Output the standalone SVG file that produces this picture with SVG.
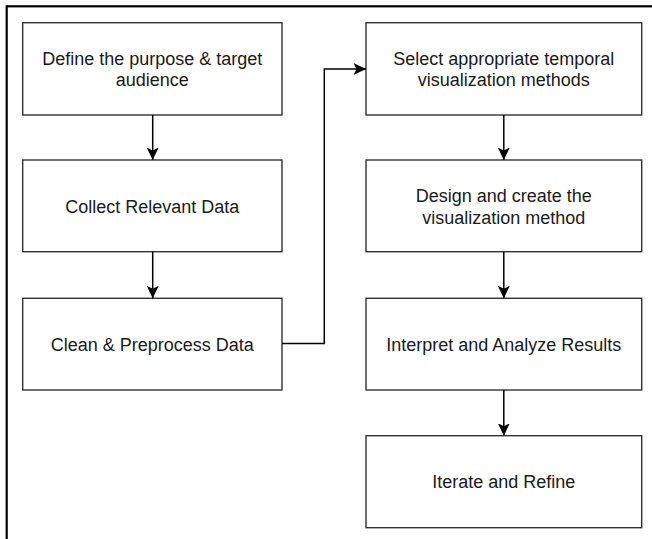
<svg xmlns="http://www.w3.org/2000/svg" width="652" height="539" viewBox="0 0 652 539">
<style>
.box{fill:#ffffff;stroke:#333333;stroke-width:1.4}
.lbl{font-family:"Liberation Sans",Arial,sans-serif;font-size:18px;fill:#1a1a1a;text-anchor:middle}
.conn{fill:none;stroke:#000000;stroke-width:1.5}
</style>
<defs>
<marker id="arr" markerUnits="userSpaceOnUse" markerWidth="14" markerHeight="14" viewBox="-12 -7 14 14" refX="0" refY="0" orient="auto">
<path d="M0,0 L-12.5,-6 L-9.5,0 L-12.5,6 Z" fill="#000000"/>
</marker>
</defs>
<rect x="6.7" y="6.3" width="700" height="600" fill="#ffffff" stroke="#000000" stroke-width="2.2"/>
<g id="n1"><rect class="box" x="22.7" y="22.7" width="259.3" height="92.3"/>
<text class="lbl" x="152.3" y="64.5">Define the purpose &amp; target</text>
<text class="lbl" x="152.3" y="86">audience</text></g>
<g id="n2"><rect class="box" x="22.7" y="160" width="259.3" height="91.7"/>
<text class="lbl" x="152.3" y="212.5">Collect Relevant Data</text></g>
<g id="n3"><rect class="box" x="22.7" y="298.3" width="259.3" height="91.7"/>
<text class="lbl" x="152.3" y="350.5">Clean &amp; Preprocess Data</text></g>
<g id="n4"><rect class="box" x="366" y="22.7" width="275.7" height="92.3"/>
<text class="lbl" x="503.8" y="64.5">Select appropriate temporal</text>
<text class="lbl" x="503.8" y="86">visualization methods</text></g>
<g id="n5"><rect class="box" x="366" y="160" width="275.7" height="91.7"/>
<text class="lbl" x="503.8" y="202">Design and create the</text>
<text class="lbl" x="503.8" y="223.5">visualization method</text></g>
<g id="n6"><rect class="box" x="366" y="298.3" width="275.7" height="91.7"/>
<text class="lbl" x="503.8" y="350.5">Interpret and Analyze Results</text></g>
<g id="n7"><rect class="box" x="366" y="435.7" width="275.7" height="92"/>
<text class="lbl" x="503.8" y="488">Iterate and Refine</text></g>
<g id="connectors">
<path class="conn" d="M152.7,115 L152.7,160" marker-end="url(#arr)"/>
<path class="conn" d="M152.7,251.7 L152.7,298.3" marker-end="url(#arr)"/>
<path class="conn" d="M282,343.5 L324.3,343.5 L324.3,69 L366,69" marker-end="url(#arr)"/>
<path class="conn" d="M503.8,115 L503.8,160" marker-end="url(#arr)"/>
<path class="conn" d="M503.8,251.7 L503.8,298.3" marker-end="url(#arr)"/>
<path class="conn" d="M503.8,390 L503.8,435.7" marker-end="url(#arr)"/>
</g>
</svg>
